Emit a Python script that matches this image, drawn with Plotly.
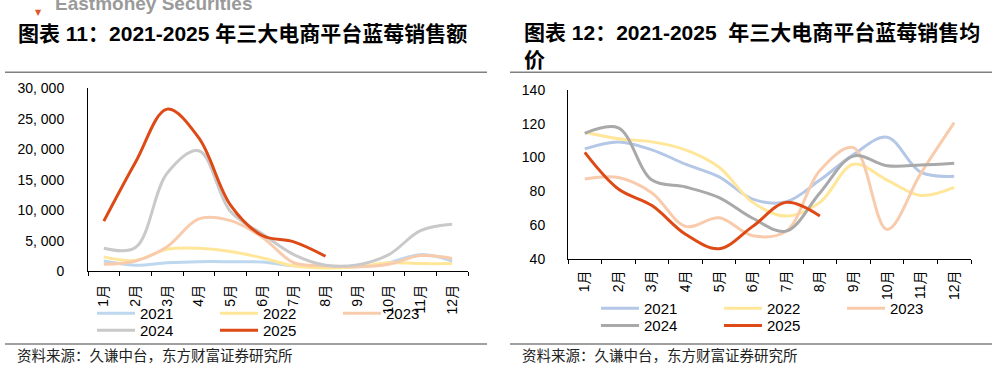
import plotly.graph_objects as go

months = ["1月", "2月", "3月", "4月", "5月", "6月", "7月", "8月", "9月", "10月", "11月", "12月"]
years = ["2021", "2022", "2023", "2024", "2025"]

# 销售额
sales_2021 = [1680, 1000, 1400, 1570, 1570, 1520, 890, 730, 730, 1400, 2730, 1680]
sales_2022 = [2360, 1780, 3620, 3780, 3250, 2200, 890, 520, 730, 1400, 1260, 1260]
sales_2023 = [1150, 1680, 4040, 8600, 8300, 5600, 1400, 900, 730, 1150, 2570, 2100]
sales_2024 = [3780, 3900, 16100, 19770, 9800, 6140, 2730, 1000, 1050, 2730, 6660, 7700]
sales_2025 = [8230, 17900, 26600, 21870, 10860, 5870, 4825, 2465]

# 均价
price_2021 = [105.1, 109.2, 104.5, 96.0, 88.5, 75.3, 73.8, 86.6, 101.7, 112.0, 91.3, 88.9]
price_2022 = [114.9, 111.1, 109.2, 104.5, 94.2, 73.4, 65.3, 73.4, 96.0, 86.6, 77.5, 82.3]
price_2023 = [87.2, 88.1, 79.0, 59.2, 64.3, 53.6, 56.4, 92.3, 105.8, 57.4, 90.4, 120.6]
price_2024 = [114.3, 117.5, 86.6, 82.5, 76.2, 64.0, 56.4, 79.0, 100.8, 95.1, 95.5, 96.6]
price_2025 = [103.0, 81.3, 71.5, 54.5, 46.0, 59.2, 73.4, 65.3]

sales_ticks = [0, 5000, 10000, 15000, 20000, 25000, 30000]
sales_ticktext = ["0", "5, 000", "10, 000", "15, 000", "20, 000", "25, 000", "30, 000"]
price_ticks = [40, 60, 80, 100, 120, 140]

colors_left = ["#BDD7EE", "#FFE699", "#F8CBAD", "#C9C9C9", "#DD4A16"]
colors_right = ["#B4C7E7", "#FFE699", "#F8CBAD", "#A9A9A9", "#DD4A16"]

W, H = 997, 375
def px(x):
    return x / W
def py(y):
    return 1 - y / H

fig = go.Figure()

sales = [sales_2021, sales_2022, sales_2023, sales_2024, sales_2025]
prices = [price_2021, price_2022, price_2023, price_2024, price_2025]
left_leg = ["legend", "legend", "legend", "legend2", "legend2"]
right_leg = ["legend3", "legend3", "legend3", "legend4", "legend4"]

for i, yr in enumerate(years):
    fig.add_trace(go.Scatter(
        x=months[:len(sales[i])], y=sales[i], name=yr, mode="lines",
        line=dict(color=colors_left[i], width=3, shape="spline", smoothing=1.0),
        xaxis="x", yaxis="y", legend=left_leg[i]))
for i, yr in enumerate(years):
    fig.add_trace(go.Scatter(
        x=months[:len(prices[i])], y=prices[i], name=yr, mode="lines",
        line=dict(color=colors_right[i], width=3, shape="spline", smoothing=1.0),
        xaxis="x2", yaxis="y2", legend=right_leg[i]))

font_lat = "Liberation Sans, Arial, Noto Sans CJK SC"
axis_font = dict(family=font_lat, size=14, color="#000")

xcommon = dict(type="category", categoryorder="array", categoryarray=months,
               range=[-0.5, 11.5], showline=True, linecolor="#000", linewidth=1,
               ticks="outside", tickson="boundaries", ticklen=4, tickcolor="#000",
               tickangle=-90, showgrid=False, zeroline=False, tickfont=axis_font,
               fixedrange=True)
ycommon = dict(showline=True, linecolor="#000", linewidth=1, ticks="",
               showgrid=False, zeroline=False, tickfont=axis_font, fixedrange=True)

leg_common = dict(orientation="h", bgcolor="rgba(0,0,0,0)",
                  font=dict(family=font_lat, size=15, color="#000"),
                  entrywidth=70, entrywidthmode="pixels", xanchor="left",
                  yanchor="middle", tracegroupgap=0, itemwidth=38)

fig.update_layout(
    width=W, height=H, margin=dict(l=0, r=0, t=0, b=0),
    paper_bgcolor="#fff", plot_bgcolor="#fff", showlegend=True,
    xaxis=dict(xcommon, domain=[px(88), px(468)], anchor="y", ticklabelstandoff=7),
    yaxis=dict(ycommon, domain=[py(275), py(84)], anchor="x", range=[0, 30000],
               tickvals=sales_ticks, ticktext=sales_ticktext, ticklabelstandoff=20),
    xaxis2=dict(xcommon, domain=[px(568), px(971)], anchor="y2", ticklabelstandoff=5),
    yaxis2=dict(ycommon, domain=[py(262), py(85.5)], anchor="x2", range=[40, 140],
                tickvals=price_ticks, ticklabelstandoff=19),
    legend=dict(leg_common, x=px(92), y=py(319)),
    legend2=dict(leg_common, x=px(92), y=py(337)),
    legend3=dict(leg_common, x=px(596), y=py(314)),
    legend4=dict(leg_common, x=px(596), y=py(332)),
)

title_font = dict(family="Liberation Sans, Noto Sans CJK SC", size=21, color="#000")
fig.add_annotation(text="<b>图表 11：2021-2025 年三大电商平台蓝莓销售额</b>",
                   xref="paper", yref="paper", x=px(16), y=py(27), xanchor="left",
                   yanchor="middle", showarrow=False, font=title_font)
fig.add_annotation(text="<b>图表 12：2021-2025  年三大电商平台蓝莓销售均</b><br><b>价</b>",
                   xref="paper", yref="paper", x=px(522), y=py(40), xanchor="left",
                   yanchor="middle", align="left", showarrow=False, font=title_font)

src_font = dict(family="Noto Sans CJK SC", size=14.5, color="#222")
fig.add_annotation(text="资料来源：久谦中台，东方财富证券研究所", xref="paper", yref="paper",
                   x=px(15), y=py(362), xanchor="left", yanchor="middle",
                   showarrow=False, font=src_font)
fig.add_annotation(text="资料来源：久谦中台，东方财富证券研究所", xref="paper", yref="paper",
                   x=px(520), y=py(362), xanchor="left", yanchor="middle",
                   showarrow=False, font=src_font)

fig.add_annotation(text="<b>Eastmoney Securities</b>", xref="paper", yref="paper",
                   x=px(53), y=py(8), xanchor="left", yanchor="bottom",
                   showarrow=False, font=dict(family=font_lat, size=19, color="#9a9a9a"))
fig.add_annotation(text="▼", xref="paper", yref="paper",
                   x=px(38.5), y=py(5), xanchor="center", yanchor="middle",
                   showarrow=False, font=dict(family="DejaVu Sans", size=8, color="#E0552A"))

# separator lines
for x0, x1 in [(5, 487), (510, 992)]:
    for yy in [67, 351]:
        fig.add_shape(type="line", xref="paper", yref="paper",
                      x0=px(x0), x1=px(x1), y0=py(yy), y1=py(yy),
                      line=dict(color="#808080", width=1.5))

fig.write_html("out.html", config={"displayModeBar": False},
               post_script="document.body.style.margin='0';document.body.style.overflow='hidden';")
